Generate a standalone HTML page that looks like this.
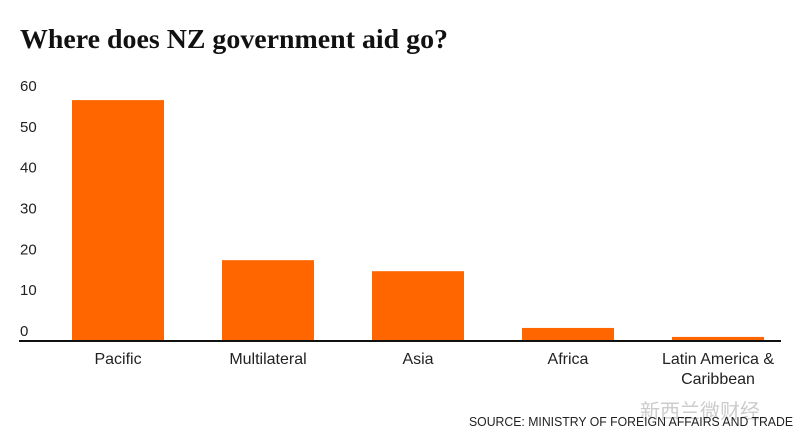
<!DOCTYPE html>
<html><head><meta charset="utf-8"><style>
body{margin:0;background:#fff;width:808px;height:448px;overflow:hidden}
svg{display:block}
</style></head><body>
<svg id="chart" width="808" height="448" font-family="Liberation Sans, sans-serif">
<text x="20" y="48" font-family="Liberation Serif, serif" font-weight="bold" font-size="27" fill="#111" textLength="428" lengthAdjust="spacingAndGlyphs">Where does NZ government aid go?</text>
<g id="yticks"></g>
<g id="bars"></g>
<line x1="19" y1="341" x2="781" y2="341" stroke="#111" stroke-width="2"/>
<g id="xlabels"></g>
<text x="760" y="418" font-family="Liberation Sans, Noto Sans CJK SC, sans-serif" font-size="20" fill="#ccc" text-anchor="end">新西兰微财经</text>
<text x="793" y="426" font-size="12.5" fill="#222" text-anchor="end" textLength="324" lengthAdjust="spacingAndGlyphs">SOURCE: MINISTRY OF FOREIGN AFFAIRS AND TRADE</text>
</svg>
<script>
const categories = ["Pacific","Multilateral","Asia","Africa","Latin America &|Caribbean"];
const values = [59, 19.8, 17.1, 3.2, 1.0];
const yTicks = [0,10,20,30,40,50,60];
const NS="http://www.w3.org/2000/svg";
function y(v){return 341 - v*4.083;}
function xc(i){return 118 + i*150;}
const bw=92;
const yg=document.getElementById('yticks');
yTicks.forEach(t=>{
  const e=document.createElementNS(NS,'text');
  e.setAttribute('x',20);e.setAttribute('y',y(t)-5);
  e.setAttribute('font-size','15');e.setAttribute('fill','#222');
  e.textContent=t;
  
  
  yg.appendChild(e);
});
const bg=document.getElementById('bars');
const xg=document.getElementById('xlabels');
values.forEach((v,i)=>{
  const r=document.createElementNS(NS,'rect');
  r.setAttribute('x',xc(i)-bw/2);r.setAttribute('y',y(v));
  r.setAttribute('width',bw);r.setAttribute('height',341-y(v));
  r.setAttribute('fill','#ff6600');
  
  
  bg.appendChild(r);
  const lines=categories[i].split('|');
  lines.forEach((l,j)=>{
    const t=document.createElementNS(NS,'text');
    t.setAttribute('x',xc(i));t.setAttribute('y',364+j*20);
    t.setAttribute('text-anchor','middle');t.setAttribute('font-size','16');t.setAttribute('fill','#222');
    t.textContent=l;
    
    
    xg.appendChild(t);
  });
});
</script>
</body></html>
